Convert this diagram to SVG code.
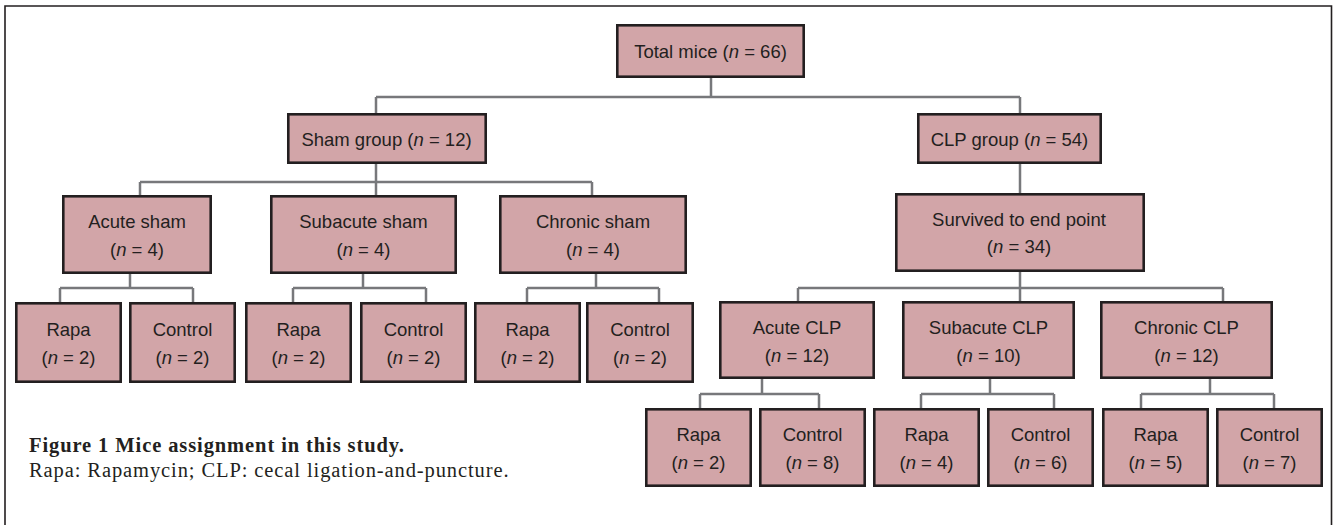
<svg xmlns="http://www.w3.org/2000/svg" width="1334" height="525" viewBox="0 0 1334 525">
<style>
.box{fill:#d2a5a8;stroke:#231f20;stroke-width:2.6}
.t{font-family:"Liberation Sans",Arial,sans-serif;font-size:18.5px;fill:#231f20;text-anchor:middle}
.c{fill:none;stroke:#77787b;stroke-width:2.5}
.cap{font-family:"Liberation Serif","Times New Roman",serif;font-size:20.5px;letter-spacing:0.9px;fill:#231f20}
</style>
<rect x="0" y="0" width="1334" height="525" fill="#ffffff"/>
<path d="M5 530 V6 H1331.5 V530" fill="none" stroke="#231f20" stroke-width="1.6"/>
<g id="connectors" class="c">
<path d="M711 78 V97 M376 97 H1020 M376 97 V113 M1020 97 V113"/>
<path d="M376 164 V195 M140 182 H592 M140 182 V195 M592 182 V195"/>
<path d="M130 274 V288 M60 288 H193 M60 288 V302 M193 288 V302"/>
<path d="M363 274 V288 M293 288 H426 M293 288 V302 M426 288 V302"/>
<path d="M596 274 V288 M527 288 H659 M527 288 V302 M659 288 V302"/>
<path d="M1020 164 V193 M1020 272 V301 M798 288 H1223 M798 288 V301 M1223 288 V301"/>
<path d="M762 379 V394 M700 394 H819 M700 394 V408 M819 394 V408"/>
<path d="M990 379 V394 M921 394 H1054 M921 394 V408 M1054 394 V408"/>
<path d="M1210 379 V394 M1141 394 H1274 M1141 394 V408 M1274 394 V408"/>
</g>
<g id="total"><rect class="box" x="617.3" y="25.3" width="186.4" height="51.4"/><text class="t" x="710.5" y="58">Total mice (<tspan font-style="italic">n</tspan> = 66)</text></g>
<g id="sham"><rect class="box" x="288.3" y="114.3" width="197.4" height="48.4"/><text class="t" x="386.5" y="145.5">Sham group (<tspan font-style="italic">n</tspan> = 12)</text></g>
<g id="clp"><rect class="box" x="918.3" y="114.3" width="182.4" height="48.4"/><text class="t" x="1009.5" y="145.5">CLP group (<tspan font-style="italic">n</tspan> = 54)</text></g>
<g id="survived"><rect class="box" x="896.3" y="194.3" width="247.4" height="76.4"/><text class="t" x="1019" y="226">Survived to end point</text><text class="t" x="1019" y="253">(<tspan font-style="italic">n</tspan> = 34)</text></g>
<g id="acute-sham"><rect class="box" x="63.3" y="196.3" width="147.4" height="76.4"/><text class="t" x="137" y="228">Acute sham</text><text class="t" x="137" y="256">(<tspan font-style="italic">n</tspan> = 4)</text></g>
<g id="subacute-sham"><rect class="box" x="271.3" y="196.3" width="184.4" height="76.4"/><text class="t" x="363.5" y="228">Subacute sham</text><text class="t" x="363.5" y="256">(<tspan font-style="italic">n</tspan> = 4)</text></g>
<g id="chronic-sham"><rect class="box" x="500.3" y="196.3" width="185.4" height="76.4"/><text class="t" x="593" y="228">Chronic sham</text><text class="t" x="593" y="256">(<tspan font-style="italic">n</tspan> = 4)</text></g>
<g id="as-rapa"><rect class="box" x="16.3" y="303.3" width="104.4" height="78.4"/><text class="t" x="68.5" y="336">Rapa</text><text class="t" x="68.5" y="364">(<tspan font-style="italic">n</tspan> = 2)</text></g>
<g id="as-control"><rect class="box" x="130.3" y="303.3" width="104.4" height="78.4"/><text class="t" x="182.5" y="336">Control</text><text class="t" x="182.5" y="364">(<tspan font-style="italic">n</tspan> = 2)</text></g>
<g id="ss-rapa"><rect class="box" x="246.3" y="303.3" width="104.4" height="78.4"/><text class="t" x="298.5" y="336">Rapa</text><text class="t" x="298.5" y="364">(<tspan font-style="italic">n</tspan> = 2)</text></g>
<g id="ss-control"><rect class="box" x="361.3" y="303.3" width="104.4" height="78.4"/><text class="t" x="413.5" y="336">Control</text><text class="t" x="413.5" y="364">(<tspan font-style="italic">n</tspan> = 2)</text></g>
<g id="cs-rapa"><rect class="box" x="475.3" y="303.3" width="104.4" height="78.4"/><text class="t" x="527.5" y="336">Rapa</text><text class="t" x="527.5" y="364">(<tspan font-style="italic">n</tspan> = 2)</text></g>
<g id="cs-control"><rect class="box" x="587.3" y="303.3" width="105.4" height="78.4"/><text class="t" x="640" y="336">Control</text><text class="t" x="640" y="364">(<tspan font-style="italic">n</tspan> = 2)</text></g>
<g id="acute-clp"><rect class="box" x="720.3" y="302.3" width="153.4" height="75.4"/><text class="t" x="797" y="334">Acute CLP</text><text class="t" x="797" y="362">(<tspan font-style="italic">n</tspan> = 12)</text></g>
<g id="subacute-clp"><rect class="box" x="903.3" y="302.3" width="170.4" height="75.4"/><text class="t" x="988.5" y="334">Subacute CLP</text><text class="t" x="988.5" y="362">(<tspan font-style="italic">n</tspan> = 10)</text></g>
<g id="chronic-clp"><rect class="box" x="1101.3" y="302.3" width="170.4" height="75.4"/><text class="t" x="1186.5" y="334">Chronic CLP</text><text class="t" x="1186.5" y="362">(<tspan font-style="italic">n</tspan> = 12)</text></g>
<g id="ac-rapa"><rect class="box" x="646.3" y="409.3" width="104.4" height="76.4"/><text class="t" x="698.5" y="441">Rapa</text><text class="t" x="698.5" y="469">(<tspan font-style="italic">n</tspan> = 2)</text></g>
<g id="ac-control"><rect class="box" x="760.3" y="409.3" width="104.4" height="76.4"/><text class="t" x="812.5" y="441">Control</text><text class="t" x="812.5" y="469">(<tspan font-style="italic">n</tspan> = 8)</text></g>
<g id="sc-rapa"><rect class="box" x="874.3" y="409.3" width="104.4" height="76.4"/><text class="t" x="926.5" y="441">Rapa</text><text class="t" x="926.5" y="469">(<tspan font-style="italic">n</tspan> = 4)</text></g>
<g id="sc-control"><rect class="box" x="988.3" y="409.3" width="104.4" height="76.4"/><text class="t" x="1040.5" y="441">Control</text><text class="t" x="1040.5" y="469">(<tspan font-style="italic">n</tspan> = 6)</text></g>
<g id="cc-rapa"><rect class="box" x="1103.3" y="409.3" width="104.4" height="76.4"/><text class="t" x="1155.5" y="441">Rapa</text><text class="t" x="1155.5" y="469">(<tspan font-style="italic">n</tspan> = 5)</text></g>
<g id="cc-control"><rect class="box" x="1217.3" y="409.3" width="104.4" height="76.4"/><text class="t" x="1269.5" y="441">Control</text><text class="t" x="1269.5" y="469">(<tspan font-style="italic">n</tspan> = 7)</text></g>
<g id="caption">
<text class="cap" x="29" y="452" font-weight="bold">Figure 1 Mice assignment in this study.</text>
<text class="cap" x="29" y="477">Rapa: Rapamycin; CLP: cecal ligation-and-puncture.</text>
</g>
</svg>
